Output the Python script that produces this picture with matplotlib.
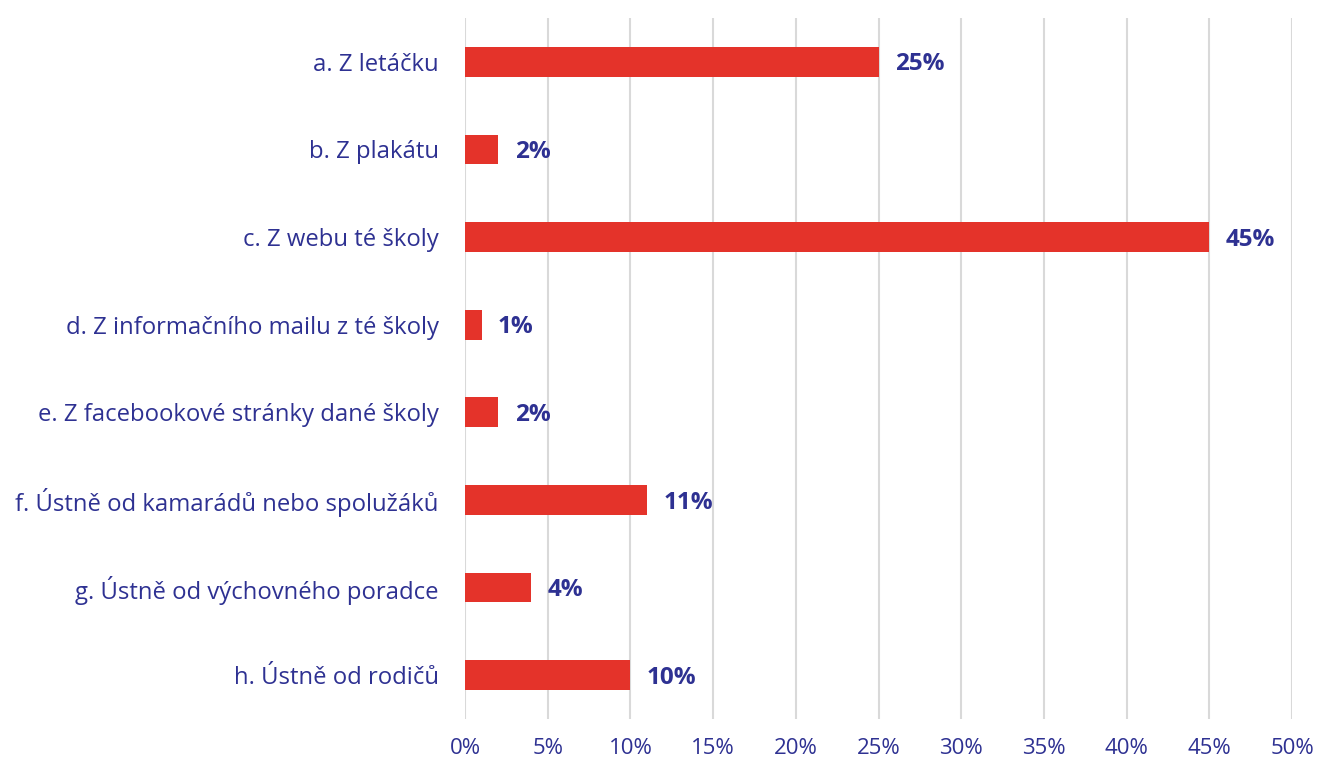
import matplotlib.pyplot as plt
from matplotlib.ticker import FuncFormatter

categories = [
    "a. Z letáčku",
    "b. Z plakátu",
    "c. Z webu té školy",
    "d. Z informačního mailu z té školy",
    "e. Z facebookové stránky dané školy",
    "f. Ústně od kamarádů nebo spolužáků",
    "g. Ústně od výchovného poradce",
    "h. Ústně od rodičů",
]
values = [25, 2, 45, 1, 2, 11, 4, 10]
xticks = [0, 5, 10, 15, 20, 25, 30, 35, 40, 45, 50]

navy = "#2E3192"
red = "#E4332A"
grid = "#D9D9D9"

plt.rcParams['font.family'] = ['Open Sans', 'DejaVu Sans']

fig = plt.figure(figsize=(13.17, 7.62), dpi=100)
ax = fig.add_axes([465/1317, 1-719/762, (1292-465)/1317, (719-18)/762])

y = list(range(len(categories)))
ax.barh(y, values, height=0.34, color=red, zorder=3)
for yi, v in zip(y, values):
    ax.text(v + 1.0, yi + 0.03, f"{v}%", va='center', ha='left', color=navy,
            fontsize=17.5, fontweight='bold')

ax.set_xlim(0, 50)
ax.set_ylim(len(categories) - 0.5, -0.5)
ax.set_xticks(xticks)
ax.xaxis.set_major_formatter(FuncFormatter(lambda x, p: f"{int(x)}%"))
ax.set_yticks(y)
ax.set_yticklabels(categories)
ax.tick_params(axis='both', length=0, colors=navy)
ax.tick_params(axis='x', pad=14, labelsize=16)
ax.tick_params(axis='y', pad=19, labelsize=17.2)
ax.grid(axis='x', color=grid, linewidth=1.5, zorder=0)
for s in ax.spines.values():
    s.set_visible(False)

fig.savefig("out.png", dpi=100)
